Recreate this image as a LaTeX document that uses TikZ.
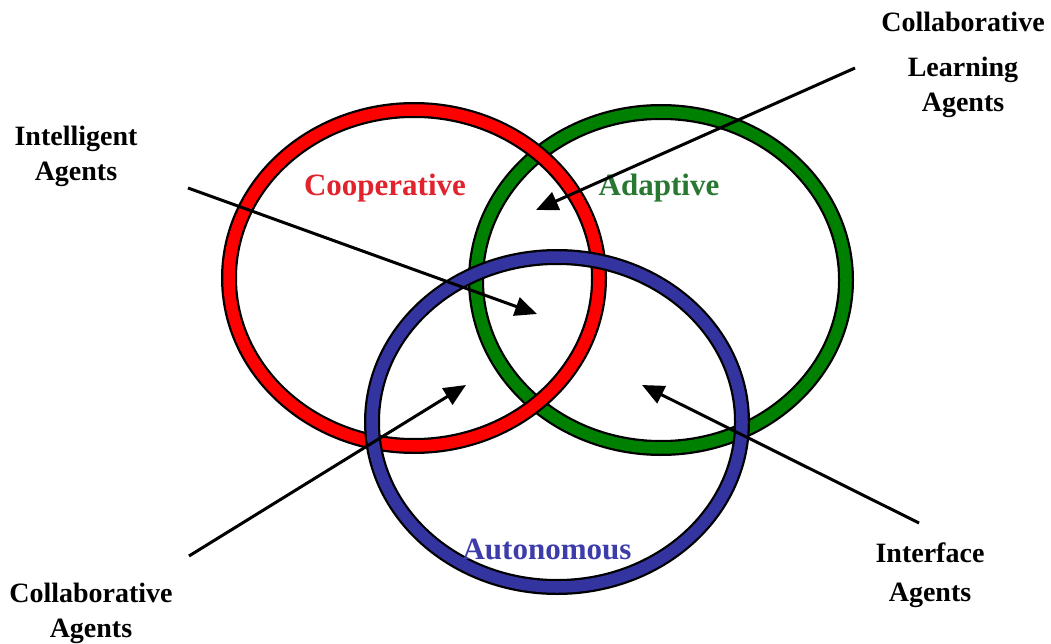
\documentclass[tikz,border=0pt]{standalone}
\usepackage{fontspec}
\setmainfont{Liberation Serif}
\usepackage{tikz}
\usetikzlibrary{arrows.meta}

\definecolor{ringred}{RGB}{255,0,0}
\definecolor{ringgreen}{RGB}{0,128,0}
\definecolor{ringblue}{RGB}{52,52,160}
\definecolor{txtred}{RGB}{225,35,45}
\definecolor{txtgreen}{RGB}{40,120,50}
\definecolor{txtblue}{RGB}{60,60,170}

\begin{document}
\begin{tikzpicture}[
  x=1pt, y=-1pt,
  ring/.style={draw=#1, line width=11.5pt, preaction={draw=black, line width=16pt}},
  setname/.style={font=\fontsize{31}{37}\selectfont\bfseries, text=#1, inner sep=0pt},
  agentlab/.style={font=\fontsize{28}{35}\selectfont\bfseries, align=center, inner sep=0pt, anchor=base},
  agentarrow/.style={-{Triangle[length=22pt,width=19pt]}, line width=3pt, black}
]
\useasboundingbox (0,0) rectangle (1051,644);

% three rings: green below, red, blue on top
\draw[ring=ringgreen] (661,280) ellipse [x radius=185, y radius=168];
\draw[ring=ringred]   (414,278) ellipse [x radius=185, y radius=168];
\draw[ring=ringblue]  (557,422) ellipse [x radius=185, y radius=165];

\node[setname=txtred]   (coop)  at (385,188) {Cooperative};
\node[setname=txtgreen] (adapt) at (659,188) {Adaptive};
\node[setname=txtblue]  (auto)  at (547,549) {Autonomous};

% agent labels (anchored at the baseline of the last line)
\node[agentlab] (intel)   at (76,181)  {Intelligent\\Agents};
\node[agentlab] (cllearn) at (963,112) {Collaborative\\[10pt]Learning\\Agents};
\node[agentlab] (collab)  at (91,637)  {Collaborative\\Agents};
\node[agentlab] (iface)   at (930,601) {Interface\\[4pt]Agents};

% arrow ends
\coordinate (intelS) at (188,188);
\coordinate (intelT) at (537,314);
\coordinate (cllearnS) at (855,68);
\coordinate (cllearnT) at (536,210);
\coordinate (collabS) at (189,556);
\coordinate (collabT) at (466,385);
\coordinate (ifaceS) at (919,523);
\coordinate (ifaceT) at (642,385);

\draw[agentarrow] (intelS) -- (intelT);
\draw[agentarrow] (cllearnS) -- (cllearnT);
\draw[agentarrow] (collabS) -- (collabT);
\draw[agentarrow] (ifaceS) -- (ifaceT);
\end{tikzpicture}
\end{document}
